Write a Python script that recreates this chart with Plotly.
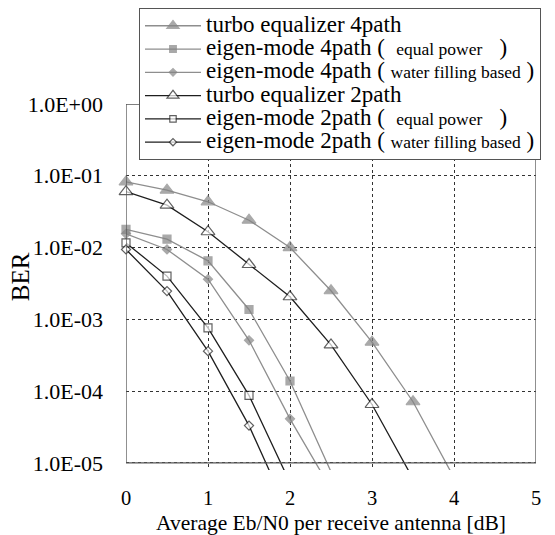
import plotly.graph_objects as go

# ---------------- data ----------------
x_turbo4 = [0, 0.5, 1, 1.5, 2, 2.5, 3, 3.5, 4]
ber_turbo4 = [0.082, 0.063, 0.0434, 0.024, 0.0100, 0.0025, 4.8e-4, 7.1e-5, 6.2e-6]

x_eig4eq = [0, 0.5, 1, 1.5, 2, 2.5]
ber_eig4eq = [0.0179, 0.0131, 0.00653, 0.00137, 1.38e-4, 7.5e-6]

x_eig4wf = [0, 0.5, 1, 1.5, 2, 2.5]
ber_eig4wf = [0.0155, 0.0094, 0.00362, 5.1e-4, 4.1e-5, 4.3e-6]

x_turbo2 = [0, 0.5, 1, 1.5, 2, 2.5, 3, 3.5]
ber_turbo2 = [0.060, 0.039, 0.0166, 0.0058, 0.00206, 4.4e-4, 6.5e-5, 6.0e-6]

x_eig2eq = [0, 0.5, 1, 1.5, 2]
ber_eig2eq = [0.0116, 0.0040, 7.6e-4, 8.7e-5, 5.3e-6]

x_eig2wf = [0, 0.5, 1, 1.5, 2]
ber_eig2wf = [0.0094, 0.00247, 3.6e-4, 3.3e-5, 1.8e-6]

x_ticks = [0, 1, 2, 3, 4, 5]
y_tickvals = [1, 1e-1, 1e-2, 1e-3, 1e-4, 1e-5]
y_ticktext = ["1.0E+00", "1.0E-01", "1.0E-02", "1.0E-03", "1.0E-04", "1.0E-05"]

FONT = "Liberation Serif, Times New Roman, DejaVu Serif, serif"
NB = "\u00a0"
SMALL = "<span style='font-size:17.5px'>{}</span>"
BIG = "<span style='font-size:23px'>{}</span>"
names = [
    BIG.format("turbo equalizer 4path"),
    BIG.format("eigen-mode 4path (" + NB * 2) + SMALL.format("equal power") + BIG.format(NB * 3 + ")"),
    BIG.format("eigen-mode 4path (" + NB) + SMALL.format("water filling based") + BIG.format(NB + ")"),
    BIG.format("turbo equalizer 2path"),
    BIG.format("eigen-mode 2path (" + NB * 2) + SMALL.format("equal power") + BIG.format(NB * 3 + ")"),
    BIG.format("eigen-mode 2path (" + NB) + SMALL.format("water filling based") + BIG.format(NB + ")"),
]

GRAY = "#858585"
GRAYLINE = "#8e8e8e"
BLACK = "#1e1e1e"
YMIN = 1e-5

series = [
    (x_turbo4, ber_turbo4, "triangle-up", 12, GRAY, GRAY, GRAYLINE),
    (x_eig4eq, ber_eig4eq, "square", 8, GRAY, GRAY, GRAYLINE),
    (x_eig4wf, ber_eig4wf, "diamond", 7, GRAY, GRAY, GRAYLINE),
    (x_turbo2, ber_turbo2, "triangle-up", 12, "white", BLACK, BLACK),
    (x_eig2eq, ber_eig2eq, "square", 8, "white", BLACK, BLACK),
    (x_eig2wf, ber_eig2wf, "diamond", 7, "white", BLACK, BLACK),
]

fig = go.Figure()
for (xs, ys, sym, sz, fill, edge, lc), nm in zip(series, names):
    sizes = [sz if v >= YMIN else 0 for v in ys]
    fig.add_trace(go.Scatter(
        x=xs, y=ys, name=nm, mode="lines+markers",
        line=dict(color=lc, width=1.3),
        marker=dict(symbol=sym, size=sizes, color=fill,
                    line=dict(color=edge, width=1.2)),
        cliponaxis=False,
    ))

# plot-area frame at the axis limits
fig.add_shape(type="rect", xref="x", yref="y", x0=0, x1=5, y0=YMIN, y1=1,
              line=dict(color="#555555", width=1.3), fillcolor="rgba(0,0,0,0)",
              layer="above")

fig.add_annotation(text="BER", xref="paper", yref="paper", x=-0.2585, y=0.527,
                   xanchor="center", yanchor="middle",
                   textangle=-90, showarrow=False,
                   font=dict(family=FONT, size=25, color="black"))
fig.add_annotation(text="Average Eb/N0 per receive antenna [dB]",
                   xref="paper", yref="paper", x=0.5, y=-0.1448,
                   xanchor="center", yanchor="middle", showarrow=False,
                   font=dict(family=FONT, size=21.5, color="black"))

fig.update_layout(
    width=547, height=527,
    margin=dict(l=118, r=19, t=96, b=65, autoexpand=False),
    paper_bgcolor="white", plot_bgcolor="white",
    font=dict(family=FONT, color="black"),
    showlegend=True,
    legend=dict(x=0.0317, y=1.262, xanchor="left", yanchor="top",
                bgcolor="white", bordercolor="#555555", borderwidth=1,
                font=dict(family=FONT, size=15.6, color="black"),
                itemwidth=56, tracegroupgap=0),
    xaxis=dict(range=[0, 5], tickvals=x_ticks, showgrid=True,
               gridcolor="#333333", griddash="dot", gridwidth=1,
               showline=False, zeroline=False, ticks="",
               tickfont=dict(family=FONT, size=20.5, color="black"),
               ticklabelstandoff=13),
    yaxis=dict(type="log", range=[-5.1, 0], tickvals=y_tickvals, ticktext=y_ticktext,
               showgrid=True, gridcolor="#333333", griddash="dot", gridwidth=1,
               showline=False, zeroline=False, ticks="",
               tickfont=dict(family=FONT, size=22, color="black"),
               ticklabelstandoff=22),
)

fig.write_html("out.html")
